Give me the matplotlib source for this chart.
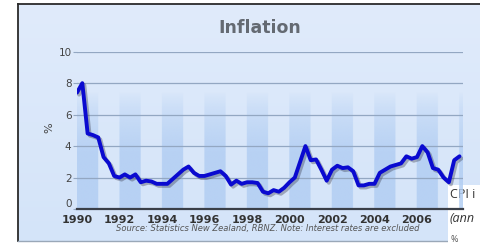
import numpy as np
import matplotlib
matplotlib.use("Agg")
import matplotlib.pyplot as plt
import matplotlib.patheffects as pe
import matplotlib.transforms as mtransforms
from matplotlib.patches import Rectangle

# ---- data (quarterly annual CPI inflation, %) ----
start_year = 1990.0
inflation = [7.4, 8.0, 4.8, 4.7, 4.55, 3.3, 2.9, 2.1,
             2.0, 2.2, 2.0, 2.2, 1.7, 1.8, 1.75, 1.6,
             1.6, 1.6, 1.9, 2.2, 2.5, 2.7, 2.3, 2.1,
             2.1, 2.2, 2.3, 2.4, 2.1, 1.55, 1.8, 1.6,
             1.7, 1.7, 1.65, 1.1, 1.0, 1.2, 1.1, 1.35,
             1.7, 2.0, 3.0, 4.0, 3.1, 3.15, 2.5, 1.8,
             2.5, 2.75, 2.6, 2.65, 2.4, 1.5, 1.5, 1.6,
             1.6, 2.3, 2.5, 2.7, 2.8, 2.9, 3.35, 3.2,
             3.3, 4.0, 3.6, 2.6, 2.5, 2.0, 1.7, 3.1, 3.35]
years = start_year + np.arange(len(inflation)) / 4.0
xticks = list(range(1990, 2008, 2))
yticks = [0, 2, 4, 6, 8, 10]
title = "Inflation"
ylabel = "%"
source = "Source: Statistics New Zealand, RBNZ. Note: Interest rates are excluded"
overlay_lines = ["CPI i", "(ann", "%"]

W, H = 481, 244
fig = plt.figure(figsize=(W / 100, H / 100), dpi=100)
fig.patch.set_facecolor("white")

# panel background with vertical gradient
bg = fig.add_axes([0, 0, 1, 1], zorder=0)
bg.set_xlim(0, W); bg.set_ylim(H, 0); bg.axis("off")
top_c = np.array([224, 235, 251]) / 255
bot_c = np.array([212, 228, 249]) / 255
t = np.linspace(0, 1, 200)[:, None]
grad = (top_c[None, None, :] * (1 - t[:, :, None]) + bot_c[None, None, :] * t[:, :, None])
bg.imshow(np.repeat(grad, 2, axis=1), extent=[18, 490, 241, 4], aspect="auto", zorder=0)
bg.plot([18, 18], [241, 4], color="#2a2a2a", lw=1.3, zorder=2)
bg.plot([18, 490], [4, 4], color="#2a2a2a", lw=1.3, zorder=2)
bg.plot([18, 490], [241, 241], color="#9aa8b8", lw=1.0, zorder=2)

# overlay white box (screenshot artifact)
bg.add_patch(Rectangle((448, 185), 40, 70, facecolor="white", edgecolor="none", zorder=5))
bg.text(450, 195, overlay_lines[0], fontsize=9, color="#333333", va="center", ha="left",
        family="Open Sans", zorder=6)
bg.text(450, 218, overlay_lines[1], fontsize=9, color="#333333", va="center", ha="left",
        family="Open Sans", style="italic", zorder=6)
bg.text(451, 239, overlay_lines[2], fontsize=6.5, color="#555555", va="center", ha="left",
        family="Open Sans", zorder=6)

# main axes
x0, x1 = 77, 463
y0, y1 = 209.0, 51.7
ax = fig.add_axes([x0 / W, 1 - y0 / H, (x1 - x0) / W, (y0 - y1) / H], zorder=1)
ax.patch.set_alpha(0)
xmax = 1990 + (x1 - x0) / 21.25
ax.set_xlim(1990, xmax)
ax.set_ylim(0, 10)

# alternating vertical bands fading toward the top
band_c = np.array([178, 206, 243]) / 255
ny, nx = 200, 800
xs = np.linspace(1990, xmax, nx)
ys = np.linspace(0, 10, ny)
dark = ((np.floor(xs) - 1990) % 2 == 0).astype(float)
fade = np.clip((7.4 - ys) / 3.8, 0, 1) ** 0.7
alpha = fade[:, None] * dark[None, :] * 0.85
img = np.zeros((ny, nx, 4))
img[..., :3] = band_c
img[..., 3] = alpha
ax.imshow(img, extent=[1990, xmax, 0, 10], origin="lower", aspect="auto", zorder=0)

for yv in yticks[1:]:
    ax.axhline(yv, color="#93a7c2", lw=0.9, zorder=1)

ax.plot(years, inflation, color="#0a0ad0", lw=2.8, solid_joinstyle="round",
        solid_capstyle="round", zorder=3,
        path_effects=[pe.SimpleLineShadow(offset=(1.5, -1.5), shadow_color="#334", alpha=0.35),
                      pe.Normal()])

for s in ["top", "right", "left"]:
    ax.spines[s].set_visible(False)
ax.spines["bottom"].set_color("#3a3f48")
ax.spines["bottom"].set_linewidth(1.6)

ax.set_xticks(xticks)
ax.set_xticklabels([str(x) for x in xticks], fontsize=8, fontweight="bold", color="#333333")
ax.set_yticks(yticks)
ax.set_yticklabels([str(y) for y in yticks], fontsize=7.5, color="#444444")
lbl0 = ax.get_yticklabels()[0]
lbl0.set_verticalalignment("bottom")
lbl0.set_transform(lbl0.get_transform() + mtransforms.ScaledTranslation(0, -2 / 72, fig.dpi_scale_trans))
ax.tick_params(axis="x", length=0, pad=4)
ax.tick_params(axis="y", length=3, color="#93a7c2", pad=1)

fig.text(49 / W, 1 - 128 / H, ylabel, rotation=90, fontsize=8, color="#444444",
         ha="center", va="center")
fig.text(260 / W, 1 - 28 / H, title, fontsize=12.5, fontweight="bold", color="#646a72",
         ha="center", va="center")
fig.text(268 / W, 1 - 229 / H, source, fontsize=6, style="italic", color="#555555",
         ha="center", va="center")

fig.savefig("out.png", dpi=100)
